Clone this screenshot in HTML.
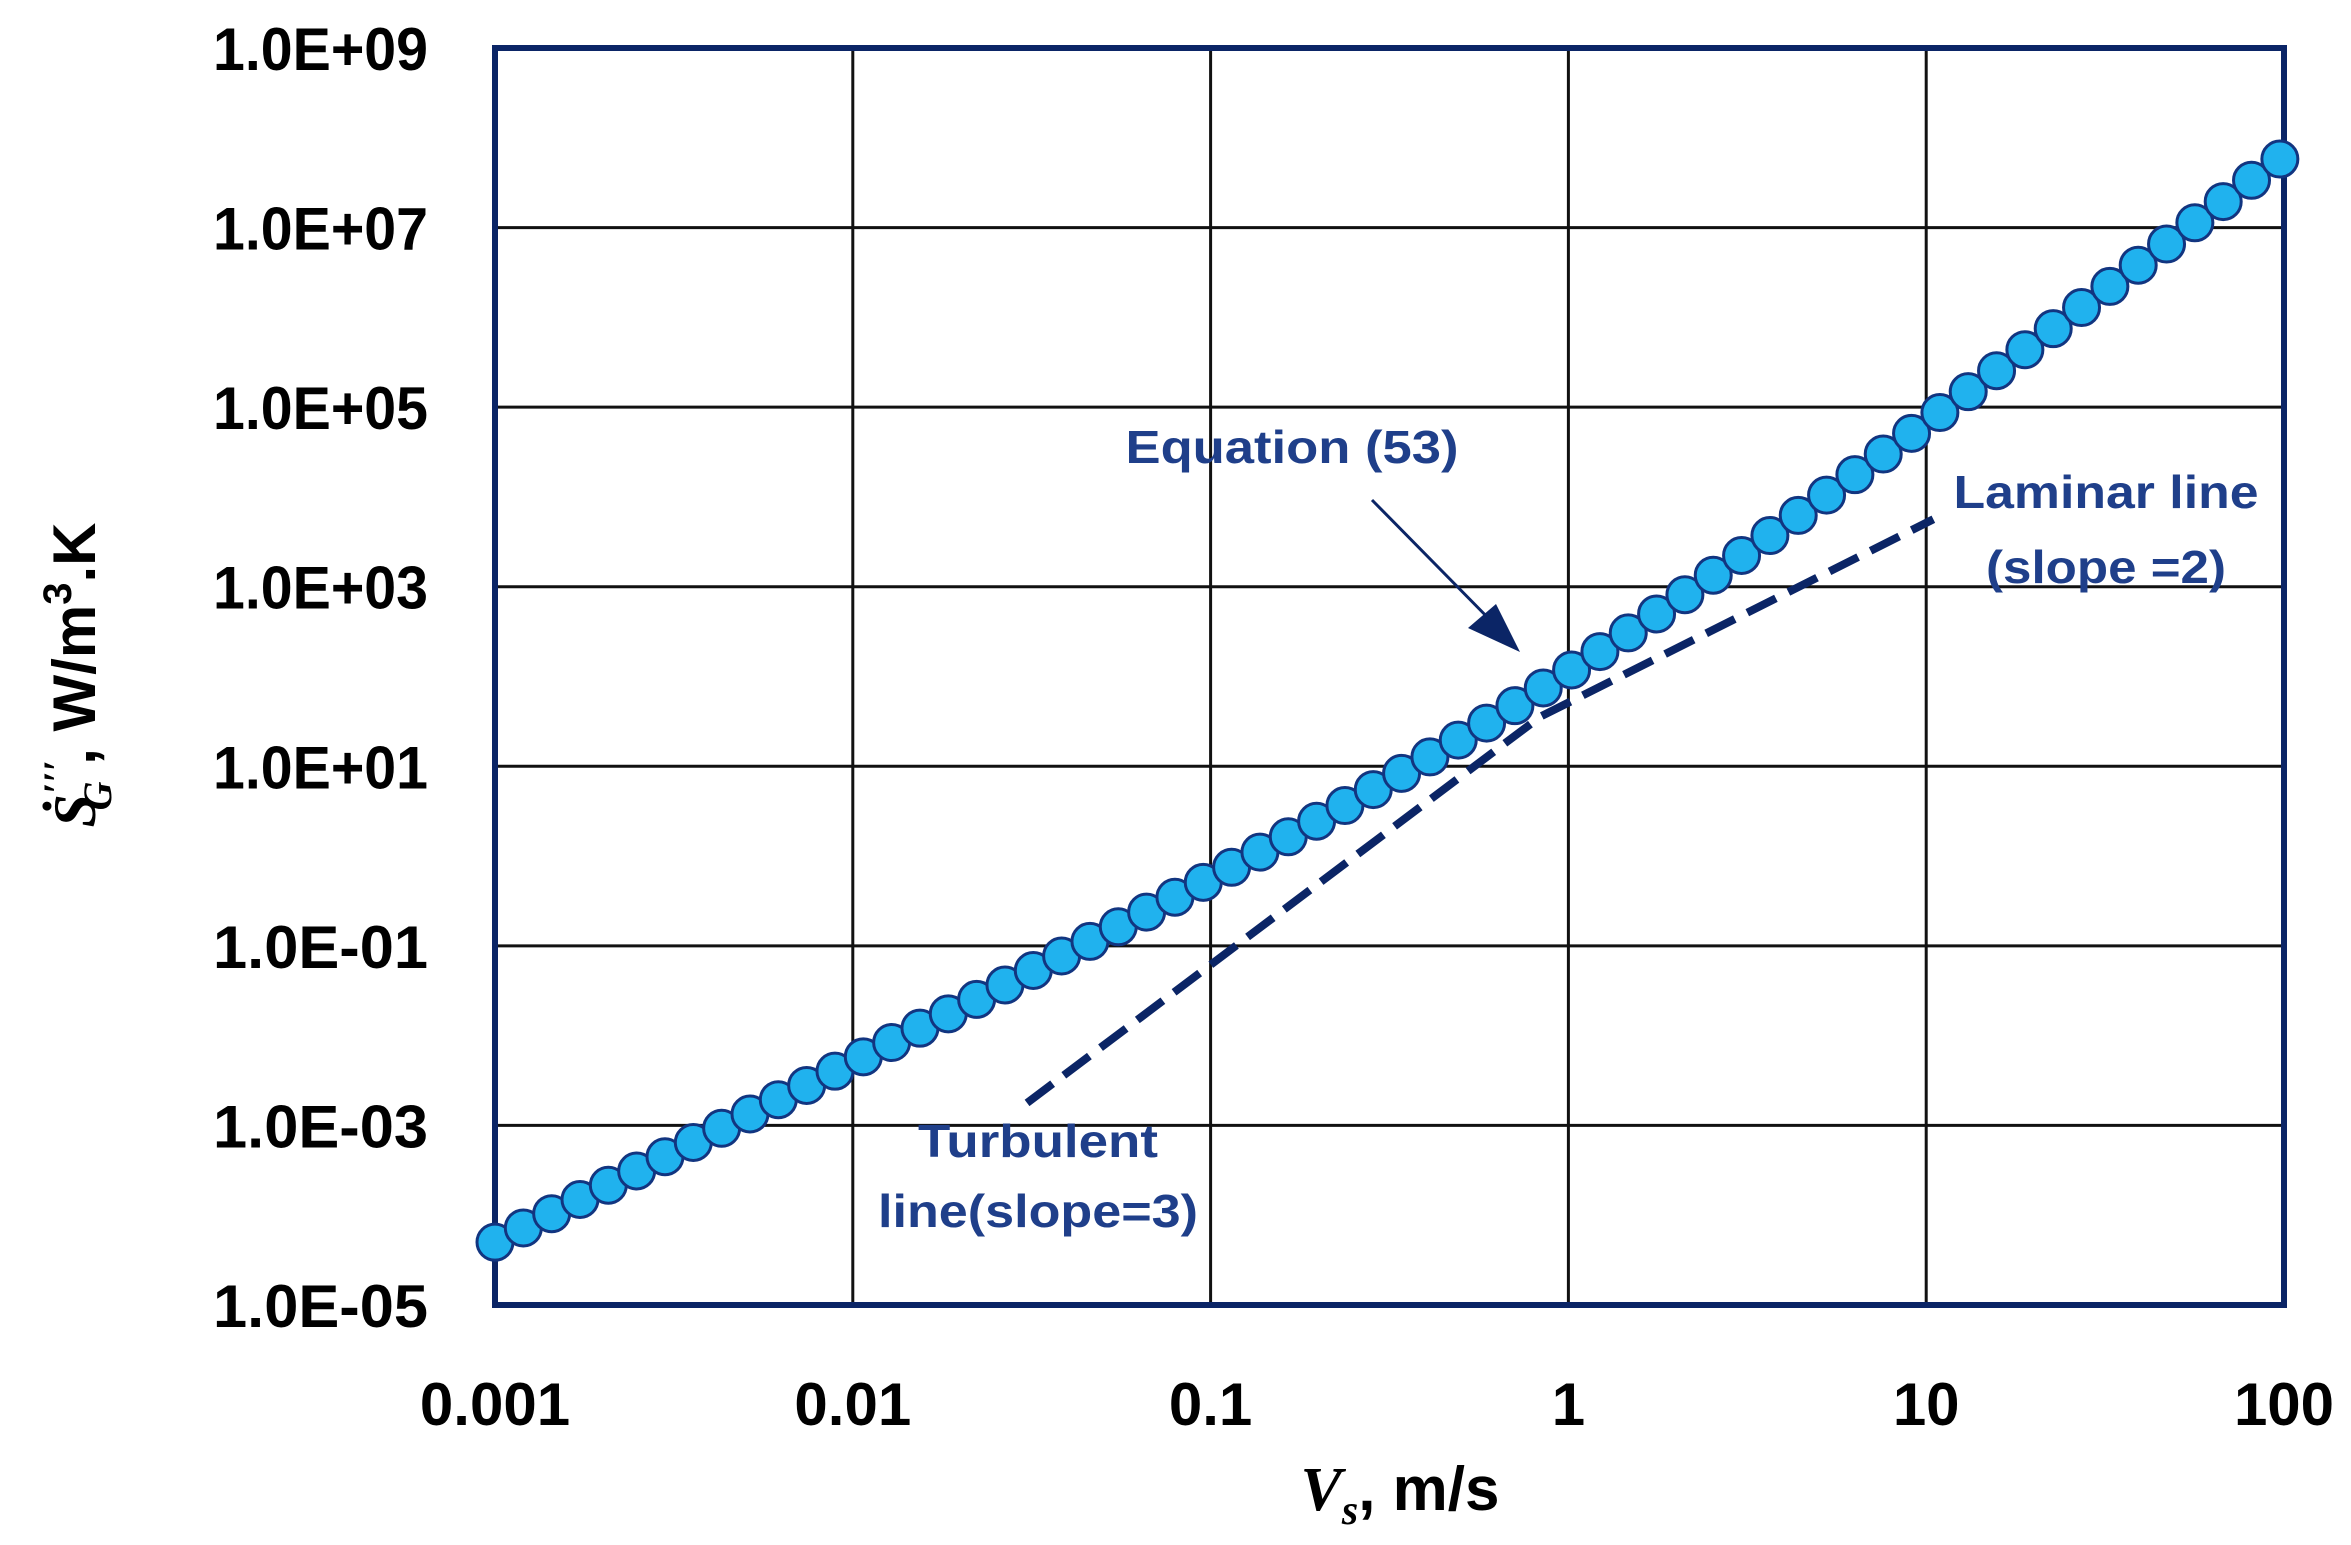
<!DOCTYPE html>
<html><head><meta charset="utf-8"><style>
html,body{margin:0;padding:0;background:#fff}
svg{display:block}
text{font-family:"Liberation Sans",sans-serif;font-weight:bold}
</style></head><body>
<svg id="s" width="2351" height="1545" viewBox="0 0 2351 1545" xmlns="http://www.w3.org/2000/svg">
<rect width="2351" height="1545" fill="#fff"/>
<g id="grid" stroke="#111" stroke-width="3"></g>
<rect x="495" y="48" width="1789" height="1257" fill="none" stroke="#0b2566" stroke-width="6"/>
<g id="ylab" font-size="60" fill="#000" text-anchor="end"></g>
<g id="xlab" font-size="60" fill="#000" text-anchor="middle"></g>
<polyline id="dash" fill="none" stroke="#0b2566" stroke-width="8" stroke-dasharray="32,14"/>
<g id="pts" fill="#20b2ee" stroke="#123580" stroke-width="3"></g>
<g fill="#1f3f8a" font-size="46">
<text x="1292" y="463" text-anchor="middle" textLength="333" lengthAdjust="spacingAndGlyphs">Equation (53)</text>
<text x="2106" y="508" text-anchor="middle" textLength="305" lengthAdjust="spacingAndGlyphs">Laminar line</text>
<text x="2106" y="583" text-anchor="middle" textLength="240" lengthAdjust="spacingAndGlyphs">(slope =2)</text>
<text x="1038" y="1157" text-anchor="middle" textLength="240" lengthAdjust="spacingAndGlyphs">Turbulent</text>
<text x="1038" y="1227" text-anchor="middle" textLength="320" lengthAdjust="spacingAndGlyphs">line(slope=3)</text>
</g>
<line x1="1372" y1="500" x2="1500" y2="630" stroke="#0b2566" stroke-width="3"/>
<polygon points="1520,652 1468,628 1496,604" fill="#0b2566"/>
<text x="1400" y="1510" font-size="62" text-anchor="middle"><tspan font-family="Liberation Serif" font-style="italic">V</tspan><tspan font-family="Liberation Serif" font-style="italic" font-size="42" dy="14">s</tspan><tspan dy="-14">, m/s</tspan></text>
<text transform="translate(95,675) rotate(-90)" font-size="60" text-anchor="middle"><tspan font-family="Liberation Serif" font-style="italic">Ṡ</tspan><tspan font-family="Liberation Serif" font-style="italic" font-size="40" dy="-24">′′′</tspan><tspan font-family="Liberation Serif" font-style="italic" font-size="40" dx="-50" dy="40">G</tspan><tspan dy="-16"> , W/m</tspan><tspan font-size="40" dy="-24">3</tspan><tspan dy="24">.K</tspan></text>
</svg>
<script>
var NS="http://www.w3.org/2000/svg";
function X(v){return 495+357.8*(Math.log10(v)+3);}
function Y(y){return 1305-(Math.log10(y)+5)*89.8;}
function el(p,t,a,txt){var e=document.createElementNS(NS,t);for(var k in a)e.setAttribute(k,a[k]);if(txt)e.textContent=txt;document.getElementById(p).appendChild(e);}
var xs=[0.001,0.01,0.1,1,10,100],xl=["0.001","0.01","0.1","1","10","100"];
for(var i=1;i<5;i++){var x=X(xs[i]);el("grid","line",{x1:x,y1:48,x2:x,y2:1305});}
for(var i=0;i<6;i++)el("xlab","text",{x:X(xs[i]),y:1425},xl[i]);
var ye=["+09","+07","+05","+03","+01","-01","-03","-05"];
for(var i=0;i<8;i++){var y=48+i*179.57;if(i>0&&i<7)el("grid","line",{x1:495,y1:y,x2:2284,y2:y});el("ylab","text",{x:428,y:y+22,textLength:215,lengthAdjust:"spacingAndGlyphs"},"1.0E"+ye[i]);}
for(var n=0;n<=63;n++){var v=0.001*Math.pow(1.2,n);if(v>101)break;var y=50*v*v+62*v*v*v;el("pts","circle",{cx:X(v),cy:Y(y),r:18});}
function P(lx,ly){return (495+357.8*(lx+3))+","+(1305-(ly+5)*89.8);}
document.getElementById("dash").setAttribute("points",P(-1.513,-2.75)+" "+P(-0.079,1.55)+" "+P(1.02,3.75));
</script>
</body></html>
